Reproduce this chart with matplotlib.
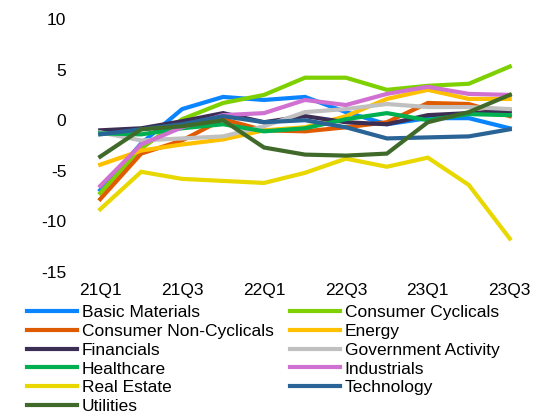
import matplotlib
matplotlib.use("Agg")
import matplotlib.pyplot as plt

plt.rcParams['font.family'] = ['Liberation Sans', 'DejaVu Sans']
plt.rcParams['axes.unicode_minus'] = False

quarters = ["21Q1", "21Q2", "21Q3", "21Q4", "22Q1", "22Q2",
            "22Q3", "22Q4", "23Q1", "23Q2", "23Q3"]

basic_materials = [-6.9, -2.3, 1.1, 2.3, 2.0, 2.3, 0.8, -0.4, 0.2, 0.2, -0.8]
consumer_cyclicals = [-7.2, -2.8, 0.1, 1.7, 2.5, 4.2, 4.2, 3.0, 3.4, 3.6, 5.3]
consumer_noncyclicals = [-7.8, -3.3, -2.0, 0.1, -1.0, -1.1, -0.7, -0.2, 1.7, 1.6, 0.4]
energy = [-4.4, -3.0, -2.4, -1.9, -1.0, -0.7, 0.4, 2.1, 3.0, 2.1, 2.1]
financials = [-1.0, -0.8, -0.1, 0.7, -0.2, 0.4, -0.2, -0.4, 0.5, 0.7, 0.9]
government = [-1.2, -2.0, -1.8, -1.6, -0.6, 0.8, 1.1, 1.6, 1.3, 1.3, 1.1]
healthcare = [-1.3, -1.4, -0.8, -0.4, -1.1, -0.8, 0.1, 0.7, 0.0, 0.6, 0.5]
industrials = [-6.5, -2.4, -0.7, 0.5, 0.7, 2.0, 1.5, 2.6, 3.3, 2.6, 2.5]
real_estate = [-8.8, -5.1, -5.8, -6.0, -6.2, -5.2, -3.8, -4.6, -3.7, -6.4, -11.7]
technology = [-1.4, -0.9, -0.4, 0.4, -0.2, 0.0, -0.7, -1.8, -1.7, -1.6, -0.9]
utilities = [-3.6, -0.9, -0.6, 0.0, -2.7, -3.4, -3.5, -3.3, -0.2, 0.8, 2.5]

sectors = ["Basic Materials", "Consumer Cyclicals", "Consumer Non-Cyclicals",
           "Energy", "Financials", "Government Activity", "Healthcare",
           "Industrials", "Real Estate", "Technology", "Utilities"]
series = [basic_materials, consumer_cyclicals, consumer_noncyclicals, energy,
          financials, government, healthcare, industrials, real_estate,
          technology, utilities]
colours = ["#0A84FF", "#7ED000", "#E05A00", "#FFC000", "#3C2D55", "#C0C0C0",
           "#00B050", "#D070D0", "#E8D800", "#2A6496", "#3F6A2A"]

fig = plt.figure(figsize=(5.37, 4.16), dpi=100)
ax = fig.add_axes([90 / 537, 1 - 272 / 416, 430 / 537, 253 / 416])

x = list(range(len(quarters)))
lines = {}
for name, y, c in zip(sectors, series, colours):
    lines[name], = ax.plot(x, y, color=c, lw=3.0, solid_joinstyle='miter')

ax.set_xlim(-0.25, 10.25)
ax.set_ylim(-15, 10)
ax.set_yticks([-15, -10, -5, 0, 5, 10])
ax.set_xticks(x[::2])
ax.set_xticklabels(quarters[::2])
for s in ax.spines.values():
    s.set_visible(False)
ax.tick_params(length=0, labelsize=12.5, colors='black')
ax.tick_params(axis='y', pad=17)
ax.tick_params(axis='x', pad=8)

# legend is read row by row in the reference, matplotlib fills columns first
order = sectors[0::2] + sectors[1::2]
fig.legend([lines[n] for n in order], order, ncol=2, loc='upper left',
           bbox_to_anchor=(27 / 537, 1 - 305 / 416), frameon=False,
           fontsize=12.5, handlelength=2.9, handletextpad=0.25,
           labelspacing=0.21, columnspacing=0.95, borderpad=0,
           borderaxespad=0)

fig.savefig("out.png", dpi=100)
